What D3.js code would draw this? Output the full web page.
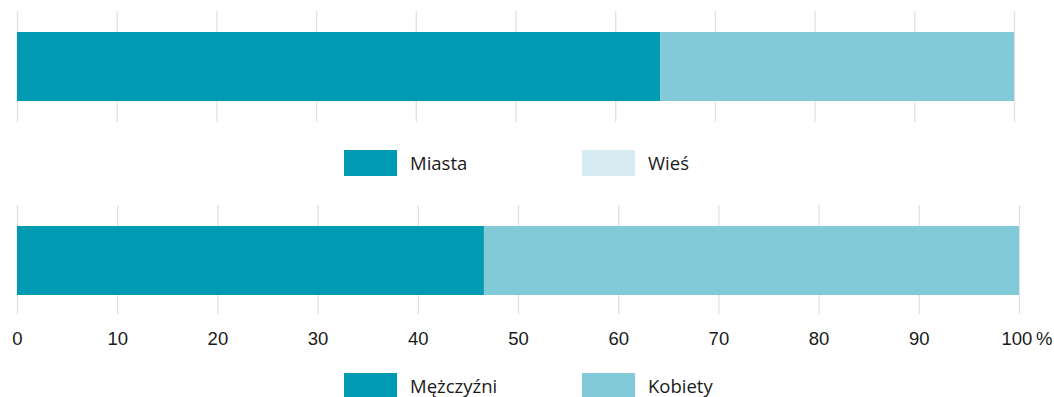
<!DOCTYPE html>
<html lang="pl">
<head>
<meta charset="utf-8">
<script src="https://cdn.jsdelivr.net/npm/d3@7"></script>
<style>
  html, body { margin: 0; padding: 0; background: #fff; }
  svg { display: block; font-family: "Open Sans", sans-serif; }
  .grid line { stroke: #e2e2e2; stroke-width: 1.3; }
  .grid path { display: none; }
  .grid text { font-size: 18.5px; fill: #1a1a1a; }
  .legend text { font-size: 18.5px; fill: #1a1a1a; }
</style>
</head>
<body>
<svg id="chart" width="1054" height="397"></svg>
<script>
// Udział procentowy – miejsce zamieszkania
const residenceSeries = ["Miasta", "Wieś"];
const residenceValues = [64.5, 35.5];

// Udział procentowy – płeć
const sexSeries = ["Mężczyźni", "Kobiety"];
const sexValues = [46.6, 53.4];

// Oś procentowa
const tickValues = [0, 10, 20, 30, 40, 50, 60, 70, 80, 90, 100];
const tickLabels = ["0", "10", "20", "30", "40", "50", "60", "70", "80", "90", "100"];
const unitLabel = "%";

const barColors = ["#009ab2", "#83cad8"];
const residenceLegendColors = ["#009ab2", "#d6ecf2"];
const sexLegendColors = ["#009ab2", "#83cad8"];

const svg = d3.select("#chart");

function drawPanel(cfg) {
  const x = d3.scaleLinear().domain([0, 100]).range([cfg.x0, cfg.x1]);
  const g = svg.append("g");

  // siatka pionowa (i ewentualnie opisy osi)
  const axis = d3.axisBottom(x)
    .tickValues(tickValues)
    .tickSize(-(cfg.gridBottom - cfg.gridTop))
    .tickPadding(18)
    .tickFormat((d, i) => cfg.showLabels ? tickLabels[i] : "");
  const ax = g.append("g")
    .attr("class", "grid")
    .attr("transform", `translate(0,${cfg.gridBottom})`)
    .call(axis);
  ax.selectAll(".tick text").attr("font-family", null).attr("font-size", null);
  if (cfg.showLabels) {
    const last = ax.selectAll(".tick").filter(d => d === 100).select("text");
    last.attr("text-anchor", "start").attr("x", -18)
      .append("tspan").text("\u2009" + unitLabel);
  }

  // słupek skumulowany
  const stacked = cfg.values.map((v, i) => ({
    key: cfg.series[i],
    start: d3.sum(cfg.values.slice(0, i)),
    value: v,
    color: barColors[i]
  }));
  g.append("g").selectAll("rect")
    .data(stacked)
    .join("rect")
    .attr("x", d => x(d.start))
    .attr("width", d => x(d.start + d.value) - x(d.start))
    .attr("y", cfg.barTop)
    .attr("height", cfg.barHeight)
    .attr("fill", d => d.color);

  // legenda
  const legendX = d3.scalePoint().domain(cfg.series).range([344, 582]);
  const lg = g.append("g").attr("class", "legend")
    .selectAll("g")
    .data(cfg.series)
    .join("g")
    .attr("transform", d => `translate(${legendX(d)},${cfg.legendTop})`);
  lg.append("rect")
    .attr("width", 53)
    .attr("height", 26)
    .attr("fill", (d, i) => cfg.legendColors[i]);
  lg.append("text")
    .attr("x", 66)
    .attr("y", 19.5)
    .text(d => d);
}

drawPanel({
  series: residenceSeries,
  values: residenceValues,
  legendColors: residenceLegendColors,
  x0: 17, x1: 1014,
  gridTop: 11, gridBottom: 122,
  barTop: 32, barHeight: 69,
  legendTop: 150,
  showLabels: false
});

drawPanel({
  series: sexSeries,
  values: sexValues,
  legendColors: sexLegendColors,
  x0: 17, x1: 1019,
  gridTop: 205, gridBottom: 314,
  barTop: 226, barHeight: 69,
  legendTop: 373,
  showLabels: true
});
</script>
</body>
</html>
